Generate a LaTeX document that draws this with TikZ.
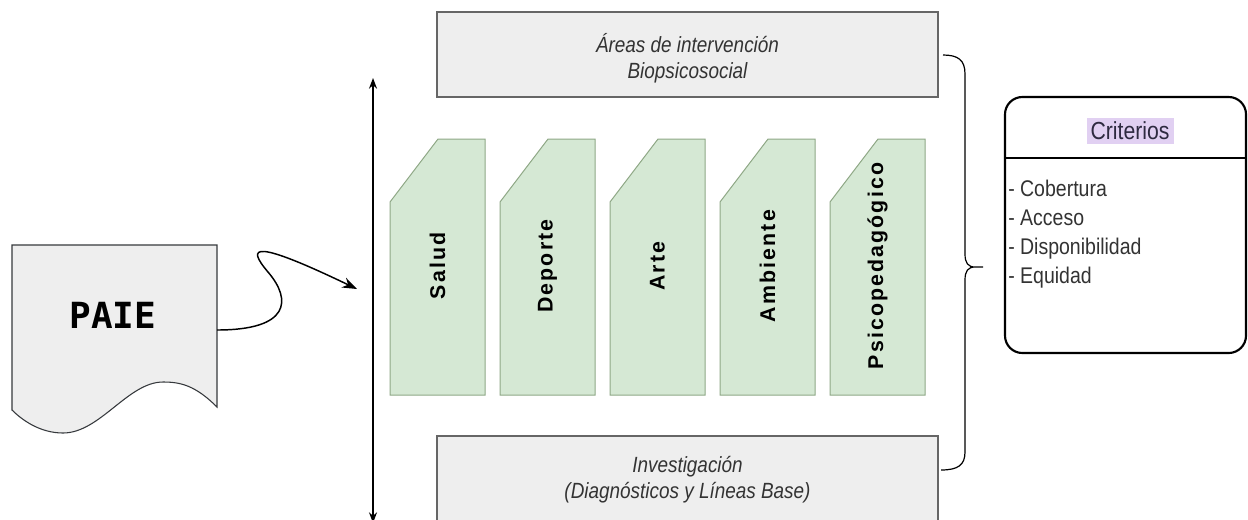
\documentclass[tikz,border=0pt]{standalone}
\usepackage{fontspec}
\setmainfont{Liberation Sans}[FakeStretch=0.86]
\newfontfamily\monofnt{DejaVu Sans Mono}
\newfontfamily\cardfnt[LetterSpace=10]{Liberation Sans}
\usetikzlibrary{arrows.meta}
\definecolor{boxfill}{HTML}{EEEEEE}
\definecolor{boxline}{HTML}{666666}
\definecolor{txtgray}{HTML}{333333}
\definecolor{cardfill}{HTML}{D5E8D4}
\definecolor{cardline}{HTML}{8FA886}
\definecolor{paieline}{HTML}{36393D}
\definecolor{hilite}{HTML}{E1D0F2}
\definecolor{hitext}{HTML}{2E2A40}
\tikzset{
  graybox/.style={fill=boxfill,draw=boxline,line width=0.8pt},
  cardbox/.style={fill=cardfill,draw=cardline,line width=0.75pt},
  cardlabel/.style={rotate=90,font=\cardfnt\bfseries\fontsize{16}{18}\selectfont,text=black,inner sep=0pt},
  boxtext/.style={align=center,text=txtgray,font=\fontsize{16.5}{19.5}\selectfont\itshape},
  conn/.style={line width=1.1pt,draw=black,-{Stealth[length=11pt,width=8pt]}},
  dconn/.style={line width=1.1pt,draw=black,{Stealth[length=8pt,width=6pt]}-{Stealth[length=8pt,width=6pt]}},
  critbox/.style={draw=black,line width=1.6pt,rounded corners=13pt,fill=white},
}
\begin{document}
\begin{tikzpicture}[x=0.75pt,y=-0.75pt]
\clip (0,0) rectangle (1248,519);
\fill[white] (0,0) rectangle (1248,519);

% PAIE document shape
\draw[fill=boxfill,draw=paieline,line width=0.8pt]
  (12,245) -- (217,245) -- (217,407)
  .. controls (195,385) and (180,382) .. (163,382)
  .. controls (128,382) and (100,433) .. (63,433)
  .. controls (40,433) and (22,420) .. (12,410) -- cycle;
\node[font=\monofnt\bfseries\fontsize{27}{30}\selectfont,text=black] (paie) at (113,315) {PAIE};
\coordinate (paieR) at (217,330);
\coordinate (arrEnd) at (357,289);
\draw[conn] (paieR) .. controls (290,330) and (292,300) .. (268,272)
  .. controls (245,245) and (255,240) .. (arrEnd);

% vertical double arrow
\coordinate (vTop) at (373,78);
\coordinate (vBot) at (373,523);
\draw[dconn] (vTop) -- (vBot);

% top box
\draw[graybox] (437,12) rectangle (938,97);
\node[boxtext] (areas) at (687.5,58) {Áreas de intervención\\Biopsicosocial};

% bottom box
\draw[graybox] (437,436) rectangle (938,540);
\node[boxtext] (inv) at (687.5,480) {Investigación\\(Diagnósticos y Líneas Base)};

% green cards
\foreach \i/\lab in {0/Salud,1/Deporte,2/Arte,3/Ambiente,4/Psicopedagógico}{
  \pgfmathsetmacro{\L}{390+110*\i}
  \draw[cardbox] (\L,202) -- (\L+48,139) -- (\L+95,139) -- (\L+95,395) -- (\L,395) -- cycle;
  \node[cardlabel] (card\i) at (\L+47.5,266) {\lab};
}

% brace
\draw[line width=0.9pt,black]
  (943,55) .. controls (958,55) and (965,60) .. (965,74) -- (965,254)
  .. controls (965,263) and (968,267) .. (975,267) -- (983,267)
  (975,267) .. controls (968,267) and (965,271) .. (965,280) -- (965,452)
  .. controls (965,465) and (958,470) .. (941,470);

% criterios box
\draw[critbox] (1005,97) rectangle (1246,353);
\draw[line width=1.6pt] (1005,158) -- (1246,158);
\node[fill=hilite,text=hitext,inner xsep=3pt,inner ysep=3pt,font=\fontsize{18.5}{20}\selectfont] (crit) at (1130,131) {Criterios};
\node[anchor=west,align=left,text=txtgray,inner sep=0pt,font=\fontsize{17}{21.75}\selectfont] (items) at (1008,234)
  {- Cobertura\\- Acceso\\- Disponibilidad\\- Equidad};
\end{tikzpicture}
\end{document}
